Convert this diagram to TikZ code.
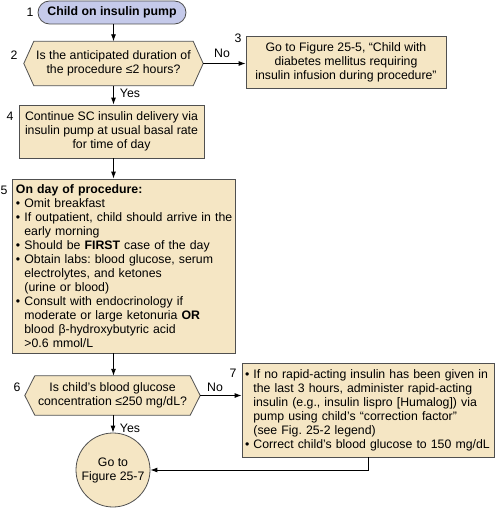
\documentclass[tikz,border=0pt]{standalone}
\usepackage{fontspec}
\setmainfont{Liberation Sans}
\usetikzlibrary{arrows.meta,backgrounds,calc}
\definecolor{beige}{RGB}{245,230,196}
\definecolor{lav}{RGB}{197,202,234}
\definecolor{bord}{RGB}{80,80,80}
\frenchspacing
\begin{document}
\begin{tikzpicture}[x=1pt,y=-1pt,
  font=\fontsize{12.3}{14}\selectfont\frenchspacing,
  box/.style={draw=bord, fill=beige, line width=0.8pt, inner sep=0pt, align=center},
  hexnode/.style={inner sep=0pt, align=center},
  hexdraw/.style={draw=bord, fill=beige, line width=0.8pt},
  arr/.style={-{Latex[length=7pt,width=5pt]}, line width=0.9pt},
  num/.style={inner sep=0pt}]
\useasboundingbox (0,0) rectangle (495,508);

\node[box, fill=lav, rounded corners=11.5pt, minimum width=148pt, minimum height=23pt,
  font=\fontsize{12.3}{14}\selectfont\bfseries] (n1) at (112,12.5) {Child on insulin pump};
\node[hexnode, minimum width=179pt, minimum height=44pt] (n2) at (113.5,63.5)
  {Is the anticipated duration of\\the procedure ≤2 hours?};
\node[box, minimum width=200pt, minimum height=52pt] (n3) at (346,62)
  {Go to Figure 25-5, “Child with\\diabetes mellitus requiring\\insulin infusion during procedure”};
\node[box, minimum width=185pt, minimum height=53pt] (n4) at (111.5,131.5)
  {Continue SC insulin delivery via\\insulin pump at usual basal rate\\for time of day};
\node[box, align=left, inner xsep=4pt, text width=215pt, minimum height=174pt] (n5) at (123.5,266)
  {\textbf{On day of procedure:}\\
   • Omit breakfast\\
   \mbox{• If outpatient, child should arrive in the}\\
   \hphantom{• }early morning\\
   • Should be \textbf{FIRST} case of the day\\
   • Obtain labs: blood glucose, serum\\
   \hphantom{• }electrolytes, and ketones\\
   \hphantom{• }(urine or blood)\\
   • Consult with endocrinology if\\
   \hphantom{• }moderate or large ketonuria \textbf{OR}\\
   \hphantom{• }blood β-hydroxybutyric acid\\
   \hphantom{• }>0.6 mmol/L};
\node[hexnode, minimum width=175pt, minimum height=39pt] (n6) at (112.5,395.5)
  {Is child’s blood glucose\\concentration ≤250 mg/dL?};
\node[box, align=left, inner xsep=3pt, text width=246pt, minimum height=94pt] (n7) at (368,410)
  {• If no rapid-acting insulin has been given in\\
   \hphantom{• }the last 3 hours, administer rapid-acting\\
   \hphantom{• }insulin (e.g., insulin lispro [Humalog]) via\\
   \hphantom{• }pump using child’s “correction factor”\\
   \hphantom{• }(see Fig. 25-2 legend)\\
   • Correct child’s blood glucose to 150 mg/dL};
\node[box, circle, minimum size=74pt] (c) at (113,470) {Go to\\Figure 25-7};

\begin{scope}[on background layer]
\foreach \n in {n2,n6}
  \draw[hexdraw] (\n.west) -- ([xshift=10pt]\n.north west) -- ([xshift=-10pt]\n.north east)
    -- (\n.east) -- ([xshift=-10pt]\n.south east) -- ([xshift=10pt]\n.south west) -- cycle;
\end{scope}

\node[num] (l1) at (30,12) {1};
\node[num] (l2) at (14,55) {2};
\node[num] (l3) at (238,38) {3};
\node[num] (l4) at (10,116) {4};
\node[num] (l5) at (4,190) {5};
\node[num] (l6) at (17,387) {6};
\node[num] (l7) at (233,373) {7};

\node[num] (no1) at (222,53) {No};
\node[num] (yes1) at (130,93) {Yes};
\node[num] (no2) at (215,387) {No};
\node[num] (yes2) at (130,428) {Yes};

\draw[arr] (n1.south -| n2.north) -- (n2.north);
\draw[arr] (n2.east) -- (n2.east -| n3.west);
\draw[arr] (n2.south) -- (n2.south |- n4.north);
\draw[arr] (n4.south -| n2.south) -- (n2.south |- n5.north);
\draw[arr] (n5.south -| n2.south) -- (n2.south |- n6.north);
\draw[arr] (n6.east) -- (n6.east -| n7.west);
\draw[arr] (n6.south -| c.north) -- (c.north);
\draw[arr] (n7.south) |- (c.east);
\end{tikzpicture}
\end{document}
